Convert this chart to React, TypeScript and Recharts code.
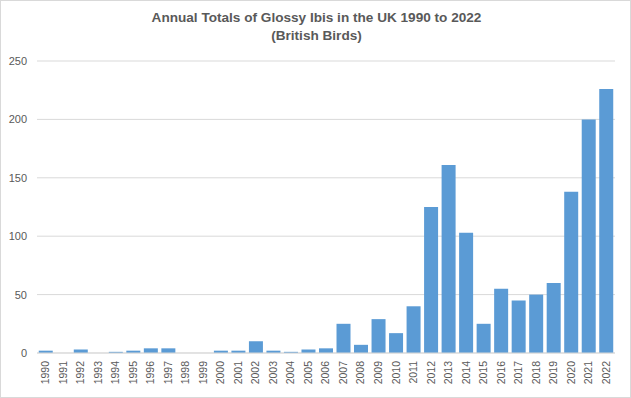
import React from "react";
import { BarChart, Bar, XAxis, YAxis, CartesianGrid } from "recharts";

const years = [
  "1990","1991","1992","1993","1994","1995","1996","1997","1998","1999",
  "2000","2001","2002","2003","2004","2005","2006","2007","2008","2009",
  "2010","2011","2012","2013","2014","2015","2016","2017","2018","2019",
  "2020","2021","2022",
];
const totals = [
  2, 0, 3, 0, 1, 2, 4, 4, 0, 0,
  2, 2, 10, 2, 1, 3, 4, 25, 7, 29,
  17, 40, 125, 161, 103, 25, 55, 45, 50, 60,
  138, 200, 226,
];
const yTicks = [0, 50, 100, 150, 200, 250];
const titleLines = ["Annual Totals of Glossy Ibis in the UK 1990 to 2022", "(British Birds)"];

const data = years.map((y, i) => ({ year: y, total: totals[i] }));

const FONT = "'Liberation Sans', Arial, sans-serif";
const TEXT = "#595959";

export default function App() {
  return (
    <div style={{ position: "absolute", left: 0, top: 0, width: 631, height: 398, background: "#fff", boxSizing: "border-box", border: "1px solid #d9d9d9", fontFamily: FONT }}>
      <div style={{ position: "absolute", left: 0, top: 8, width: 631, textAlign: "center", color: TEXT, fontWeight: "bold", fontSize: 13.6, lineHeight: "18px" }}>
        {titleLines.map((t) => (<div key={t}>{t}</div>))}
      </div>
      <div style={{ position: "absolute", left: -1, top: -1 }}>
        <BarChart width={631} height={398} data={data} margin={{ top: 61, right: 16, bottom: 0, left: 0 }} barCategoryGap="10%">
          <CartesianGrid vertical={false} stroke="#d9d9d9" />
          <XAxis
            dataKey="year"
            interval={0}
            height={45}
            tickLine={false}
            axisLine={{ stroke: "#d9d9d9" }}
            angle={-90}
            textAnchor="end"
            tick={{ fill: TEXT, fontSize: 10.5, fontFamily: FONT, dx: -4 }}
            tickMargin={2}
          />
          <YAxis
            width={37}
            domain={[0, 250]}
            ticks={yTicks}
            tickLine={false}
            axisLine={false}
            tick={{ fill: TEXT, fontSize: 11, fontFamily: FONT }}
            tickMargin={4}
          />
          <Bar dataKey="total" fill="#5B9BD5" isAnimationActive={false} />
        </BarChart>
      </div>
    </div>
  );
}
